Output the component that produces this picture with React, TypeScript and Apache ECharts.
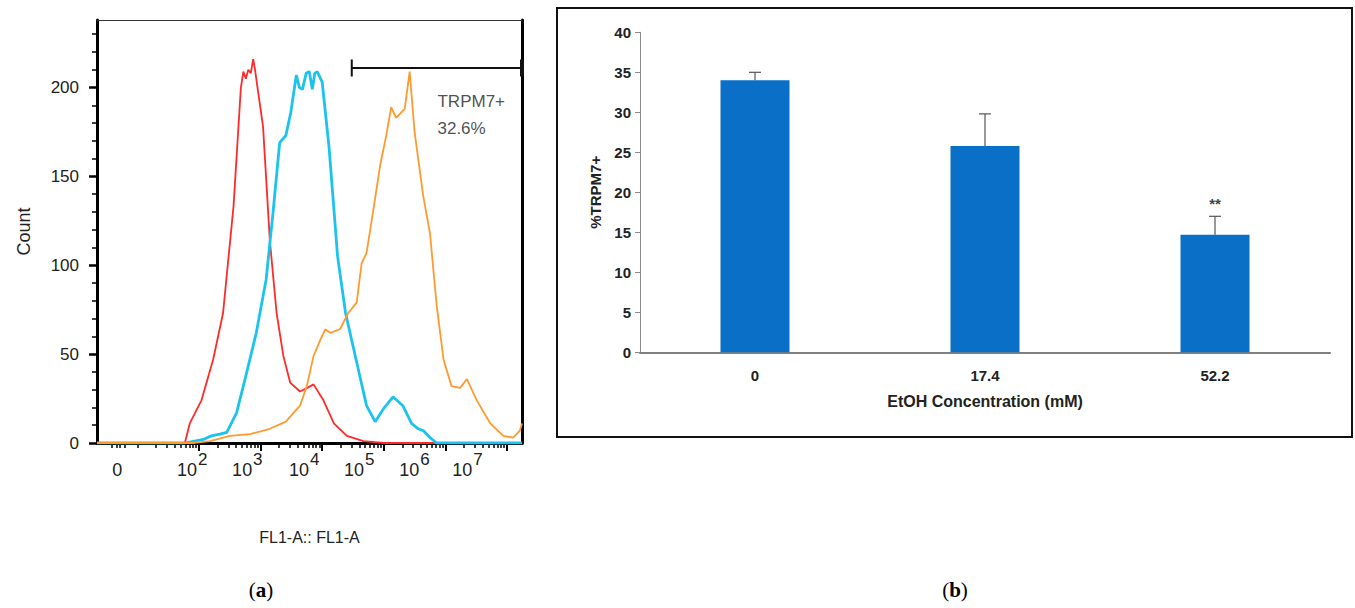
import { useEffect, useRef } from 'react';
import * as echarts from 'echarts';

// ---------- Panel (a): flow cytometry histogram (x in log10 decades) ----------
const redCurve: [number, number][] = [
  [0.344, 0], [1.77, 0], [1.85, 11], [2.04, 24], [2.23, 47], [2.39, 73], [2.56, 133],
  [2.68, 200], [2.72, 209], [2.76, 205], [2.8, 210], [2.84, 208], [2.88, 216], [2.91, 210],
  [2.95, 200], [3.04, 178], [3.15, 114], [3.26, 73], [3.37, 49], [3.48, 34], [3.64, 29],
  [3.76, 31], [3.86, 33], [4.02, 24], [4.19, 11], [4.4, 4], [4.67, 1], [5.0, 0], [7.244, 0],
];
const cyanCurve: [number, number][] = [
  [0.344, 0], [1.77, 0], [2.07, 2], [2.2, 4], [2.34, 5], [2.45, 6], [2.61, 17], [2.77, 39],
  [2.93, 62], [3.09, 92], [3.2, 129], [3.31, 169], [3.41, 173], [3.49, 186], [3.58, 207],
  [3.63, 200], [3.68, 199], [3.74, 208], [3.79, 209], [3.84, 199], [3.88, 208], [3.92, 209],
  [4.0, 203], [4.11, 167], [4.25, 105], [4.38, 73], [4.55, 47], [4.72, 21], [4.86, 12],
  [4.99, 19], [5.15, 26], [5.31, 21], [5.45, 11], [5.56, 8], [5.64, 7], [5.75, 3], [5.86, 0],
  [7.244, 0],
];
const orangeCurve: [number, number][] = [
  [0.344, 0], [1.9, 0], [2.18, 1], [2.5, 4], [2.83, 5], [3.15, 8], [3.41, 12], [3.64, 21],
  [3.75, 32], [3.86, 49], [3.97, 58], [4.05, 64], [4.13, 62], [4.29, 64], [4.42, 73],
  [4.56, 79], [4.64, 101], [4.72, 107], [4.83, 131], [4.94, 156], [5.04, 173], [5.12, 189],
  [5.2, 183], [5.34, 188], [5.42, 209], [5.5, 175], [5.64, 139], [5.75, 118], [5.86, 77],
  [5.97, 47], [6.1, 32], [6.24, 31], [6.35, 36], [6.51, 24], [6.73, 11], [6.94, 4],
  [7.1, 3], [7.21, 7], [7.244, 11],
];
const gateX = [4.48, 7.244];
const gateY = 211;
const gateLabel = 'TRPM7+\n32.6%';
const gateLabelPos: [number, number] = [5.88, 184];

const xMin = 0.344;
const xMax = 7.244;
const yMaxA = 238;
const xLabelPos = [0.72, 1.89, 2.785, 3.71, 4.6, 5.5, 6.36];
const xLabelText = ['{b|0}{s| }', '{b|10}{s|2}', '{b|10}{s|3}', '{b|10}{s|4}', '{b|10}{s|5}', '{b|10}{s|6}', '{b|10}{s|7}'];
const xMajorTicks = [2, 3, 4, 5, 6, 7];
const xLowTicks = [0.59, 0.66, 0.72, 0.8, 1.0];
const minorDecades = [1, 2, 3, 4, 5, 6, 7];
const minorMultipliers = [2, 3, 4, 5, 6, 7, 8, 9];
const yMajorA = [0, 50, 100, 150, 200];
const yMinorA = [10, 20, 30, 40, 60, 70, 80, 90, 110, 120, 130, 140, 160, 170, 180, 190, 210, 220, 230];

// ---------- Panel (b): bar chart ----------
const categories = ['0', '17.4', '52.2'];
const barValues = [34.0, 25.8, 14.7];
const barUpper = [35.0, 29.8, 17.0];
const sigMarks = ['', '', '**'];

const FONT_A = "Arial, 'Liberation Sans', sans-serif";
const FONT_B = "'Liberation Sans', Arial, sans-serif";

export default function App() {
  const ref = useRef<HTMLDivElement>(null);

  useEffect(() => {
    if (!ref.current) return;
    const chart = echarts.init(ref.current, undefined, { renderer: 'svg' });

    const xMinorTicks: number[] = [...xLowTicks];
    minorDecades.forEach((d) =>
      minorMultipliers.forEach((m) => {
        const v = d + Math.log10(m);
        if (v > xMin && v < xMax) xMinorTicks.push(v);
      })
    );

    const errData = categories.map((_, i) => [i, barValues[i], barUpper[i]]);

    const option: any = {
      animation: false,
      backgroundColor: '#ffffff',
      grid: [
        { left: 97, top: 20, width: 425, height: 423, containLabel: false },
        { left: 640, top: 32.3, width: 690, height: 320, containLabel: false },
      ],
      xAxis: [
        {
          gridIndex: 0, type: 'value', min: xMin, max: xMax, position: 'bottom',
          axisLine: { show: true, onZero: false, lineStyle: { color: '#000', width: 3 } },
          axisTick: { show: true, customValues: xMajorTicks, length: 8, lineStyle: { color: '#000', width: 2 } },
          axisLabel: {
            show: true, customValues: xLabelPos, margin: 8,
            formatter: (v: number) => {
              const i = xLabelPos.findIndex((p) => Math.abs(p - v) < 1e-6);
              return i >= 0 ? xLabelText[i] : '';
            },
            rich: {
              b: { fontSize: 18, fontFamily: FONT_A, color: '#222', verticalAlign: 'bottom' },
              s: { fontSize: 17, fontFamily: FONT_A, color: '#222', verticalAlign: 'bottom', padding: [0, 0, 11, 1] },
            },
          },
          splitLine: { show: false },
          name: 'FL1-A:: FL1-A', nameLocation: 'middle', nameGap: 86,
          nameTextStyle: { fontSize: 16, fontFamily: FONT_A, color: '#222' },
        },
        {
          gridIndex: 0, type: 'value', min: xMin, max: xMax, position: 'bottom',
          axisLine: { show: false, onZero: false },
          axisTick: { show: true, customValues: xMinorTicks, length: 5, lineStyle: { color: '#000', width: 1.5 } },
          axisLabel: { show: false },
          splitLine: { show: false },
        },
        {
          gridIndex: 0, type: 'value', min: xMin, max: xMax, position: 'top',
          axisLine: { show: true, onZero: false, lineStyle: { color: '#333', width: 1 } },
          axisTick: { show: false }, axisLabel: { show: false }, splitLine: { show: false },
        },
        {
          gridIndex: 1, type: 'category', data: categories, boundaryGap: true,
          axisLine: { show: true, lineStyle: { color: '#808080', width: 2 } },
          axisTick: { show: false },
          axisLabel: { margin: 16, fontSize: 15, fontWeight: 'bold', fontFamily: FONT_B, color: '#222' },
          splitLine: { show: false },
          name: 'EtOH Concentration (mM)', nameLocation: 'middle', nameGap: 41,
          nameTextStyle: { fontSize: 16, fontWeight: 'bold', fontFamily: FONT_B, color: '#222' },
        },
      ],
      yAxis: [
        {
          gridIndex: 0, type: 'value', min: 0, max: yMaxA, position: 'left',
          axisLine: { show: true, onZero: false, lineStyle: { color: '#000', width: 3 } },
          axisTick: { show: true, customValues: yMajorA, length: 8, lineStyle: { color: '#000', width: 2.5 } },
          axisLabel: { show: true, customValues: yMajorA, margin: 18, fontSize: 17, fontFamily: FONT_A, color: '#222' },
          splitLine: { show: false },
          name: 'Count', nameLocation: 'middle', nameGap: 64, nameRotate: 90,
          nameTextStyle: { fontSize: 18, fontFamily: FONT_A, color: '#222' },
        },
        {
          gridIndex: 0, type: 'value', min: 0, max: yMaxA, position: 'left',
          axisLine: { show: false, onZero: false },
          axisTick: { show: true, customValues: yMinorA, length: 5, lineStyle: { color: '#000', width: 1.5 } },
          axisLabel: { show: false }, splitLine: { show: false },
        },
        {
          gridIndex: 0, type: 'value', min: 0, max: yMaxA, position: 'right',
          axisLine: { show: true, onZero: false, lineStyle: { color: '#000', width: 3 } },
          axisTick: { show: false }, axisLabel: { show: false }, splitLine: { show: false },
        },
        {
          gridIndex: 1, type: 'value', min: 0, max: 40, interval: 5,
          axisLine: { show: true, lineStyle: { color: '#8a8a8a', width: 1 } },
          axisTick: { show: true, length: 5, lineStyle: { color: '#8a8a8a', width: 1 } },
          axisLabel: { margin: 9, fontSize: 15, fontWeight: 'bold', fontFamily: FONT_B, color: '#222' },
          splitLine: { show: false },
          name: '%TRPM7+', nameLocation: 'middle', nameGap: 32, nameRotate: 90,
          nameTextStyle: { fontSize: 15, fontWeight: 'bold', fontFamily: FONT_B, color: '#222' },
        },
      ],
      series: [
        {
          type: 'line', xAxisIndex: 0, yAxisIndex: 0, data: redCurve, showSymbol: false, symbol: 'none',
          lineStyle: { color: '#ff2a2a', width: 1.8 }, itemStyle: { color: '#ff2a2a' }, z: 3,
        },
        {
          type: 'line', xAxisIndex: 0, yAxisIndex: 0, data: cyanCurve, showSymbol: false, symbol: 'none',
          lineStyle: { color: '#1cc3ee', width: 2.8 }, itemStyle: { color: '#1cc3ee' }, z: 4,
        },
        {
          type: 'line', xAxisIndex: 0, yAxisIndex: 0, data: orangeCurve, showSymbol: false, symbol: 'none',
          lineStyle: { color: '#ff9a2e', width: 1.8 }, itemStyle: { color: '#ff9a2e' }, z: 5,
        },
        {
          type: 'line', xAxisIndex: 0, yAxisIndex: 0,
          data: [
            { value: [gateX[0], gateY], symbolSize: [2, 17] },
            { value: [gateX[1], gateY], symbolSize: [4, 17] },
          ],
          symbol: 'rect', showSymbol: true,
          lineStyle: { color: '#111', width: 2 }, itemStyle: { color: '#111' }, z: 6,
        },
        {
          type: 'scatter', xAxisIndex: 0, yAxisIndex: 0, data: [gateLabelPos], symbolSize: 1,
          itemStyle: { color: 'rgba(0,0,0,0)' },
          label: {
            show: true, position: [0, 0], align: 'left', verticalAlign: 'middle', formatter: gateLabel,
            fontSize: 17, lineHeight: 27, fontFamily: FONT_A, color: '#222',
          },
          z: 6,
        },
        {
          type: 'bar', xAxisIndex: 3, yAxisIndex: 3, data: barValues, barWidth: '30%',
          itemStyle: { color: '#0a6fc6' }, z: 2,
        },
        {
          type: 'custom', xAxisIndex: 3, yAxisIndex: 3, data: errData, encode: { x: 0, y: [1, 2] }, z: 3,
          renderItem: (params: any, api: any) => {
            const i = api.value(0);
            const top = api.coord([i, api.value(1)]);
            const up = api.coord([i, api.value(2)]);
            const children: any[] = [
              { type: 'line', shape: { x1: top[0], y1: top[1], x2: up[0], y2: up[1] }, style: { stroke: '#555', lineWidth: 1.2 } },
              { type: 'line', shape: { x1: up[0] - 6, y1: up[1], x2: up[0] + 6, y2: up[1] }, style: { stroke: '#555', lineWidth: 1.2 } },
            ];
            const sig = sigMarks[params.dataIndex];
            if (sig) {
              children.push({
                type: 'text', x: up[0], y: up[1] - 13,
                style: { text: sig, fontSize: 15, fontWeight: 'bold', fontFamily: FONT_B, fill: '#444', align: 'center', verticalAlign: 'middle' },
              });
            }
            return { type: 'group', children };
          },
        },
      ],
      graphic: [
        {
          type: 'rect', shape: { x: 557, y: 8, width: 795, height: 429 },
          style: { fill: 'none', stroke: '#111', lineWidth: 2 }, z: 0,
        },
        {
          type: 'text', x: 261, y: 590,
          style: {
            text: '{p|(}{b|a}{p|)}', align: 'center', verticalAlign: 'middle',
            rich: {
              p: { fontSize: 21, fontFamily: "'Liberation Serif', 'Times New Roman', serif", fill: '#000' },
              b: { fontSize: 21, fontWeight: 'bold', fontFamily: "'Liberation Serif', 'Times New Roman', serif", fill: '#000' },
            },
          },
        },
        {
          type: 'text', x: 955, y: 590,
          style: {
            text: '{p|(}{b|b}{p|)}', align: 'center', verticalAlign: 'middle',
            rich: {
              p: { fontSize: 21, fontFamily: "'Liberation Serif', 'Times New Roman', serif", fill: '#000' },
              b: { fontSize: 21, fontWeight: 'bold', fontFamily: "'Liberation Serif', 'Times New Roman', serif", fill: '#000' },
            },
          },
        },
      ],
    };

    chart.setOption(option);
    return () => chart.dispose();
  }, []);

  return (
    <div
      ref={ref}
      style={{ position: 'fixed', left: 0, top: 0, width: 1355, height: 608, background: '#fff' }}
    />
  );
}
